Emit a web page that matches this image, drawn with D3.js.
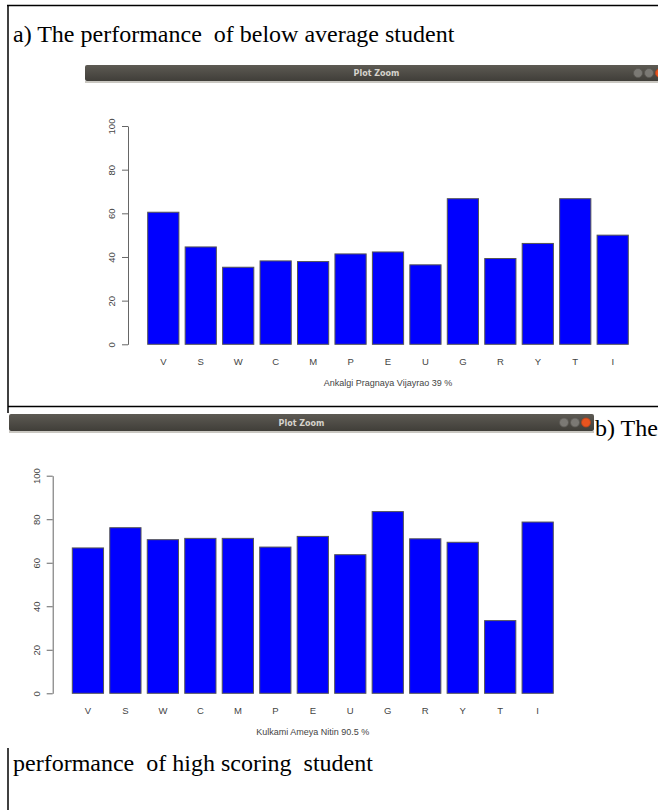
<!DOCTYPE html>
<html>
<head>
<meta charset="utf-8">
<script src="https://cdn.jsdelivr.net/npm/d3@7"></script>
<style>
  html, body { margin: 0; padding: 0; background: #fff; }
  svg { display: block; }
  text { white-space: pre; }
</style>
</head>
<body>
<svg id="root" width="658" height="810"></svg>
<script>
// ---- data ----
const categories = ["V","S","W","C","M","P","E","U","G","R","Y","T","I"];
const belowAverageScores = [60.5, 44.6, 35.3, 38.2, 37.9, 41.4, 42.3, 36.4, 66.7, 39.3, 46.2, 66.7, 50.0];
const highScoringScores  = [66.8, 76.1, 70.6, 71.2, 71.2, 67.2, 72.1, 63.7, 83.5, 71.0, 69.4, 33.4, 78.7];
const yTickValues = [0, 20, 40, 60, 80, 100];
const studentA = "Ankalgi Pragnaya Vijayrao 39 %";
const studentB = "Kulkami Ameya Nitin 90.5 %";
const captionA = "a) The performance  of below average student";
const captionB1 = "b) The";
const captionB2 = "performance  of high scoring  student";
const windowTitle = "Plot Zoom";

const svg = d3.select("#root");
const serif = "'Liberation Serif', 'Times New Roman', serif";
const sans = "'Liberation Sans', Arial, Helvetica, sans-serif";

// gradient for title bars
const defs = svg.append("defs");
const grad = defs.append("linearGradient").attr("id", "tb").attr("x1", 0).attr("y1", 0).attr("x2", 0).attr("y2", 1);
grad.append("stop").attr("offset", "0%").attr("stop-color", "#5d5a53");
grad.append("stop").attr("offset", "100%").attr("stop-color", "#403e39");

// table borders
const borders = svg.append("g").attr("stroke", "#000").attr("stroke-width", 1.5);
borders.append("line").attr("x1", 7).attr("y1", 5.5).attr("x2", 658).attr("y2", 5.5);
borders.append("line").attr("x1", 8).attr("y1", 5.5).attr("x2", 8).attr("y2", 413);
borders.append("line").attr("x1", 8).attr("y1", 406.5).attr("x2", 658).attr("y2", 406.5);
borders.append("line").attr("x1", 8).attr("y1", 748).attr("x2", 8).attr("y2", 810);

// captions
const capSize = 24;
svg.append("text").attr("x", 13).attr("y", 42).attr("font-family", serif).attr("font-size", capSize).attr("fill", "#000").text(captionA);
svg.append("text").attr("x", 595).attr("y", 436).attr("font-family", serif).attr("font-size", capSize).attr("fill", "#000").text(captionB1);
svg.append("text").attr("x", 13).attr("y", 771).attr("font-family", serif).attr("font-size", capSize).attr("fill", "#000").text(captionB2);

function titleBar(x0, x1, y0, y1) {
  const g = svg.append("g");
  g.append("rect").attr("x", x0).attr("y", y0).attr("width", x1 - x0).attr("height", y1 - y0)
    .attr("fill", "url(#tb)").attr("rx", 2);
  g.append("rect").attr("x", x0).attr("y", y1).attr("width", x1 - x0).attr("height", 2).attr("fill", "#c9c7c1");
  g.append("text").attr("x", (x0 + x1) / 2).attr("y", (y0 + y1) / 2 + 3).attr("text-anchor", "middle")
    .attr("font-family", "'DejaVu Sans', sans-serif").attr("font-weight", "bold").attr("font-size", 8)
    .attr("fill", "#d6d3cc").text(windowTitle);
  const cy = (y0 + y1) / 2;
  [x1 - 30, x1 - 19].forEach(cx => {
    g.append("circle").attr("cx", cx).attr("cy", cy).attr("r", 4.5).attr("fill", "#7b7974").attr("stroke", "#5a5853").attr("stroke-width", 0.8);
  });
  g.append("circle").attr("cx", x1 - 8).attr("cy", cy).attr("r", 4.5).attr("fill", "#e9541f").attr("stroke", "#b8421a").attr("stroke-width", 0.8);
}

titleBar(85, 668, 65, 81);
titleBar(9, 594, 414, 431);

function barChart(values, label, axisX, yTop, yBottom, barLeft, barRight) {
  const g = svg.append("g");
  const x = d3.scaleBand().domain(categories).range([barLeft, barRight]).paddingInner(0.2 / 1.2).paddingOuter(0);
  const y = d3.scaleLinear().domain([0, 100]).range([yBottom, yTop]);

  g.selectAll("rect.bar").data(values).join("rect").attr("class", "bar")
    .attr("x", (d, i) => x(categories[i]))
    .attr("y", d => y(d))
    .attr("width", x.bandwidth())
    .attr("height", d => y(0) - y(d))
    .attr("fill", "#0000ff").attr("stroke", "#555").attr("stroke-width", 1);

  const axis = g.append("g").attr("transform", `translate(${axisX},0)`)
    .call(d3.axisLeft(y).tickValues(yTickValues).tickSize(6).tickSizeOuter(0).tickFormat(d3.format("d")));
  axis.select(".domain").attr("stroke", "#666");
  axis.selectAll(".tick line").attr("stroke", "#666");
  axis.selectAll(".tick text")
    .attr("transform", "rotate(-90)").attr("x", 0).attr("y", -13).attr("dy", 0)
    .attr("text-anchor", "middle").attr("font-family", sans).attr("font-size", 9.5).attr("fill", "#444");

  g.selectAll("text.cat").data(categories).join("text").attr("class", "cat")
    .attr("x", d => x(d) + x.bandwidth() / 2).attr("y", y(0) + 21)
    .attr("text-anchor", "middle").attr("font-family", sans).attr("font-size", 9.5).attr("fill", "#444").text(d => d);

  g.append("text").attr("x", (barLeft + barRight) / 2).attr("y", y(0) + 42)
    .attr("text-anchor", "middle").attr("font-family", sans).attr("font-size", 9).attr("fill", "#444").text(label);
}

barChart(belowAverageScores, studentA, 128, 126, 344.3, 147.7, 628.3);
barChart(highScoringScores, studentB, 52.7, 475.7, 693.3, 72.3, 553.3);
</script>
</body>
</html>
